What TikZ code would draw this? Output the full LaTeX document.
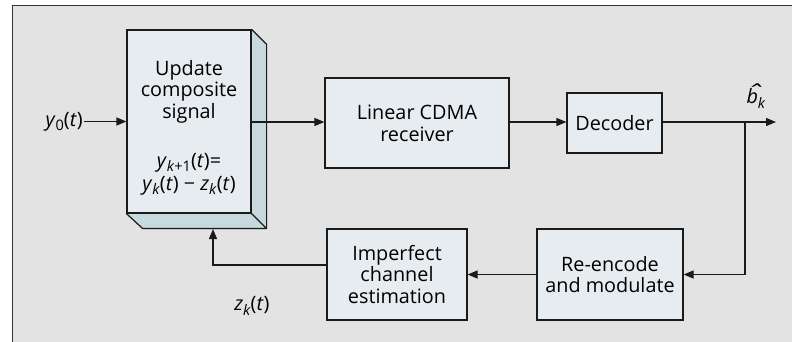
\documentclass[tikz,border=0pt]{standalone}
\usepackage{fontspec}
\setmainfont{Open Sans}
\usetikzlibrary{arrows.meta}
\definecolor{panel}{HTML}{E3E3E3}
\definecolor{boxfill}{HTML}{E7ECF0}
\definecolor{sidefill}{HTML}{C8D9DE}
\definecolor{ink}{HTML}{1A1A1A}
% variables in italic, subscripts smaller and lowered
\newcommand\vv[1]{\textit{#1}}
\newcommand\sbs[1]{\raisebox{-0.24em}{\fontsize{14.5}{14.5}\selectfont #1}}
\newcommand\ofT{(\textit{t\/})}
% estimated bit: b with a wide circumflex set above it
\newcommand\bhat{\rlap{\hspace{0.06em}\raisebox{0.18em}{\scalebox{1.7}[1.1]{\textit{\char"02C6}}}}\textit{b}}
\tikzset{
  blk/.style={draw=ink, line width=1.2pt, fill=boxfill, align=center,
    inner sep=0pt, font=\fontsize{19.8}{21.7}\selectfont},
  lbl/.style={inner sep=1pt, font=\fontsize{19.8}{21.7}\selectfont},
  arr/.style={draw=ink, line width=1.2pt, -{Triangle[length=10pt,width=8pt]}},
  wire/.style={draw=ink, line width=1.2pt}
}
\begin{document}
\begin{tikzpicture}[x=1pt, y=-1pt]
\useasboundingbox (0,0) rectangle (792,341);
% framed panel behind the diagram
\draw[fill=panel, draw=black!80, line width=1.5pt] (12.5,5.5) rectangle (805,350);

% 3D block: update of the composite signal
\node[blk, minimum width=124pt, minimum height=183pt] (upd) at (189,121.5) {};
\fill[sidefill] (upd.north east) -- ++(15,15) -- ++(0,184) -- (upd.south east) -- cycle;
\fill[sidefill] (upd.south west) -- ++(15,16) -- ++(124,0) -- (upd.south east) -- cycle;
\draw[ink, line width=1.2pt, line join=round]
  (upd.north east) -- ++(15,15) -- ++(0,184) -- ++(-124,0) -- (upd.south west)
  (upd.south east) -- ++(15,15);
\draw[ink, line width=1.2pt] (upd.north west) rectangle (upd.south east);
\coordinate (fb) at (213,229);

\node[lbl, anchor=base] (u1) at (189,75) {Update};
\node[lbl, anchor=base] (u2) at (189,96.7) {composite};
\node[lbl, anchor=base] (u3) at (189,118.4) {signal};
\node[lbl, anchor=base] (u4) at (189,167) {\vv{y}\sbs{\vv{k}+1}\ofT=};
\node[lbl, anchor=base] (u5) at (189,190) {\vv{y}\sbs{\vv{k}}\ofT\ −\ \vv{z}\sbs{\vv{k}}\ofT};

% forward path
\node[blk, minimum width=184pt, minimum height=90pt] (lin) at (417,123) {Linear CDMA\\receiver};
\node[blk, minimum width=95pt, minimum height=60pt] (dec) at (614.5,123) {Decoder};

% feedback path
\node[blk, minimum width=146pt, minimum height=91pt] (enc) at (610,274.5) {Re-encode\\and modulate};
\node[blk, minimum width=140pt, minimum height=91pt] (est) at (397,274.5) {Imperfect\\channel\\estimation};

% signal labels
\node[lbl, anchor=east] (y0) at (84,121.5) {\vv{y}\sbs{0}\ofT};
\node[lbl] (zk) at (252,306) {\vv{z}\sbs{\vv{k}}\ofT};
\coordinate (br) at (745,122);
\coordinate (out) at (776,122);
\node[lbl] (bk) at (756,96) {\bhat\sbs{\vv{k}}};

% connectors
\draw[arr] (y0.east) -- (upd.west);
\draw[arr] (upd.east |- 0,122) -- (lin.west |- 0,122);
\draw[arr] (lin.east |- 0,122) -- (dec.west |- 0,122);
\draw[arr] (dec.east |- 0,122) -- (out);
\draw[arr] (br) |- (enc.east);
\draw[arr] (enc.west) -- (est.east);
\draw[arr] ([yshift=9.5pt]est.west) -| (fb);
\end{tikzpicture}
\end{document}
